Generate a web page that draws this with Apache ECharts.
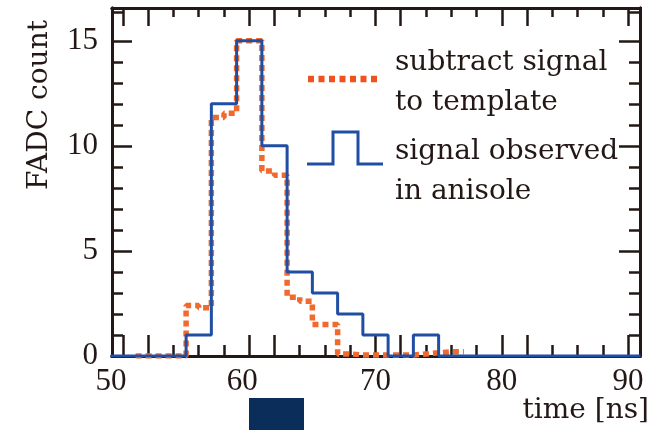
<!DOCTYPE html>
<html>
<head>
<meta charset="utf-8">
<script src="https://cdn.jsdelivr.net/npm/echarts@6/dist/echarts.min.js"></script>
<style>html,body{margin:0;padding:0;background:#fff}#c{width:652px;height:430px}</style>
</head>
<body>
<div id="c"></div>
<script>
// ---- data ----
// blue histogram: 2 ns bins, edges 49..91
const blueEdges = [49,51,53,55,57,59,61,63,65,67,69,71,73,75,77,79,81,83,85,87,89,91];
const blueValues = [0,0,0,1,12,15,10,4,3,2,1,0,1,0,0,0,0,0,0,0,0];
// orange histogram: 1 ns bins, edges 51..77
const orangeEdges = [51,52,53,54,55,56,57,58,59,60,61,62,63,64,65,66,67,68,69,70,71,72,73,74,75,76,77];
const orangeValues = [0,0,0,0,2.4,2.3,11.35,11.55,15.0,15.0,8.8,8.6,2.8,2.6,1.5,1.5,0.1,0.05,0.05,0.05,0.05,0.05,0.1,0.15,0.2,0.2];
const xLabelValues = [50,60,70,80,90];
const yLabelValues = [0,5,10,15];
const seriesNames = ['subtract signal\nto template','signal observed\nin anisole'];

function stepData(edges, vals){
  const d = [];
  for (let i = 0; i < vals.length; i++) d.push([edges[i], vals[i]]);
  d.push([edges[edges.length-1], vals[vals.length-1]]);
  return d;
}

const INK = '#231815';
const XMIN = 49.13, XMAX = 90.95, YMIN = 0, YMAX = 16.56;
const numFont = '"Liberation Serif", serif';
const txtFont = '"DejaVu Serif", serif';

function xAx(pos, vals, len, labels){
  return {
    type:'value', min:XMIN, max:XMAX, position:pos,
    axisLine:{show:true, onZero:false, lineStyle:{color:INK, width:3}},
    axisTick:{show:true, inside:true, length:len, customValues:vals, lineStyle:{color:INK, width:2.5}},
    axisLabel: labels ? {show:true, customValues:xLabelValues, color:INK, fontFamily:numFont, fontSize:31, margin:10,
      formatter: v => v===50 ? '{a|50}' : (v===60 ? '{b|60}' : String(v)),
      rich:{a:{fontFamily:numFont,fontSize:31,color:INK,padding:[0,24,0,0]}, b:{fontFamily:numFont,fontSize:31,color:INK,padding:[0,14,0,0]}}} : {show:false},
    splitLine:{show:false}
  };
}
function yAx(pos, vals, len, labels){
  return {
    type:'value', min:YMIN, max:YMAX, position:pos,
    axisLine:{show:true, onZero:false, lineStyle:{color:INK, width:3}},
    axisTick:{show:true, inside:true, length:len, customValues:vals, lineStyle:{color:INK, width:2.5}},
    axisLabel: labels ? {show:true, customValues:yLabelValues, color:INK, fontFamily:numFont, fontSize:31, margin:14} : {show:false},
    splitLine:{show:false}
  };
}
const tallX = [50,52,60,62,70,72,80,82,90];
const shortX = [54,56,58,64,66,68,74,76,78,84,86,88];
const majY = [5,10,15];
const minY = [1,2,3,4,6,7,8,9,11,12,13,14,16.37];

const chart = echarts.init(document.getElementById('c'), null, {renderer:'canvas'});
chart.setOption({
  animation:false,
  backgroundColor:'#ffffff',
  grid:{left:112, right:12, top:8, bottom:74, containLabel:false},
  xAxis:[ xAx('bottom', tallX, 21, true), xAx('bottom', shortX, 11, false),
          xAx('top', tallX, 18, false), xAx('top', shortX, 9, false) ],
  yAxis:[ yAx('left', majY, 20, true), yAx('left', minY, 11, false),
          yAx('right', majY, 21, false), yAx('right', minY, 11, false) ],
  series:[
    {name:seriesNames[0], type:'line', step:'end', xAxisIndex:0, yAxisIndex:0, showSymbol:false, symbol:'none', z:2,
     data:stepData(orangeEdges, orangeValues),
     lineStyle:{color:'#f06a2e', width:5.5, type:[6,4], cap:'butt'}},
    {name:seriesNames[1], type:'line', step:'end', xAxisIndex:0, yAxisIndex:0, showSymbol:false, symbol:'none', z:3,
     data:stepData(blueEdges, blueValues),
     lineStyle:{color:'#1f4ea3', width:3}}
  ],
  graphic:[
    {type:'line', shape:{x1:308, y1:79, x2:381, y2:79}, style:{stroke:'#f0521e', lineWidth:6.5, lineDash:[6,4.5]}},
    {type:'polyline', shape:{points:[[307,164],[333,164],[333,132],[358,132],[358,164],[383,164]]}, style:{stroke:'#1f4ea3', lineWidth:3, fill:null}},
    {type:'text', style:{text:'subtract signal', x:395, y:63, font:'28px '+txtFont, fill:INK, verticalAlign:'middle'}},
    {type:'text', style:{text:'to template', x:395, y:103, font:'28px '+txtFont, fill:INK, verticalAlign:'middle'}},
    {type:'text', style:{text:'signal observed', x:395, y:152, font:'28px '+txtFont, fill:INK, verticalAlign:'middle'}},
    {type:'text', style:{text:'in anisole', x:395, y:192, font:'28px '+txtFont, fill:INK, verticalAlign:'middle'}},
    {type:'text', x:40, y:105, rotation:Math.PI/2, style:{text:'FADC count', x:0, y:0, font:'28px '+txtFont, fill:INK, align:'center', verticalAlign:'middle'}},
    {type:'text', style:{text:'time [ns]', x:649, y:411, font:'28px '+txtFont, fill:INK, align:'right', verticalAlign:'middle'}},
    {type:'rect', shape:{x:249, y:398, width:55, height:32}, style:{fill:'#0a2d5a'}}
  ]
});
</script>
</body>
</html>
